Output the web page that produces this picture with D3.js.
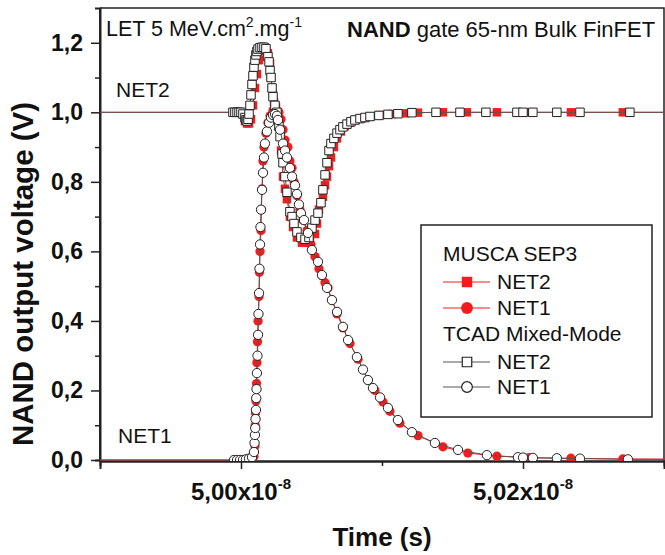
<!DOCTYPE html>
<html>
<head>
<meta charset="utf-8">
<script src="https://cdn.jsdelivr.net/npm/d3@7/dist/d3.min.js"></script>
<style>
body { margin: 0; background: #fff; }
text { font-family: "Liberation Sans", Arial, sans-serif; fill: #111; }
</style>
</head>
<body>
<script>
// time in ns, voltage in V
var tcadNet2T = [49.8, 49.9943, 49.9957, 49.9972, 49.9986, 50.0000, 50.0014, 50.0028, 50.0035, 50.0043, 50.0050, 50.0057, 50.0064, 50.0071, 50.0078, 50.0085, 50.0092, 50.0099, 50.0106, 50.0113, 50.0121, 50.0135, 50.0149, 50.0163, 50.0177, 50.0191, 50.0199, 50.0206, 50.0213, 50.0220, 50.0227, 50.0241, 50.0255, 50.0269, 50.0277, 50.0291, 50.0298, 50.0312, 50.0326, 50.0347, 50.0362, 50.0376, 50.0397, 50.0425, 50.0454, 50.0482, 50.0503, 50.0525, 50.0546, 50.0567, 50.0581, 50.0596, 50.0610, 50.0624, 50.0638, 50.0659, 50.0681, 50.0702, 50.0723, 50.0752, 50.0780, 50.0808, 50.0844, 50.0879, 50.0915, 50.0978, 50.1042, 50.1113, 50.1212, 50.1383, 50.1553, 50.1737, 50.1957, 50.2000, 50.2070, 50.2240, 50.2404, 50.2758, 50.4];
var tcadNet2V = [1.0, 1.0, 1.0, 1.0, 1.0, 1.0, 0.995, 0.985, 0.978, 0.975, 0.98, 0.995, 1.02, 1.05, 1.08, 1.105, 1.13, 1.15, 1.165, 1.175, 1.182, 1.186, 1.187, 1.187, 1.183, 1.16, 1.145, 1.12, 1.10, 1.07, 1.045, 1.02, 1.0, 0.96, 0.93, 0.88, 0.855, 0.815, 0.77, 0.714, 0.70, 0.68, 0.656, 0.64, 0.635, 0.64, 0.667, 0.69, 0.71, 0.74, 0.777, 0.82, 0.855, 0.89, 0.91, 0.925, 0.94, 0.95, 0.958, 0.966, 0.973, 0.978, 0.982, 0.985, 0.988, 0.991, 0.994, 0.996, 0.999, 1.0, 1.0, 1.0, 1.0, 1.0, 1.0, 1.0, 1.0, 1.0, 1.0];

var tcadNet1T = [49.8, 49.9950, 49.9972, 49.9993, 50.0014, 50.0035, 50.0057, 50.0078, 50.0092, 50.0096, 50.0099, 50.0101, 50.0103, 50.0106, 50.0108, 50.0110, 50.0113, 50.0117, 50.0121, 50.0124, 50.0128, 50.0131, 50.0135, 50.0138, 50.0142, 50.0149, 50.0156, 50.0163, 50.0170, 50.0184, 50.0199, 50.0213, 50.0227, 50.0241, 50.0255, 50.0262, 50.0277, 50.0298, 50.0312, 50.0326, 50.0347, 50.0362, 50.0383, 50.0397, 50.0411, 50.0425, 50.0447, 50.0475, 50.0503, 50.0546, 50.0574, 50.0610, 50.0645, 50.0681, 50.0723, 50.0759, 50.0822, 50.0865, 50.0900, 50.0936, 50.0986, 50.1042, 50.1113, 50.1212, 50.1375, 50.1539, 50.1744, 50.1964, 50.2000, 50.2070, 50.2240, 50.2404, 50.2744, 50.4];
var tcadNet1V = [0, 0, 0, 0, 0, 0.002, 0.004, 0.008, 0.023, 0.049, 0.072, 0.092, 0.118, 0.144, 0.178, 0.204, 0.25, 0.30, 0.36, 0.42, 0.48, 0.55, 0.62, 0.67, 0.72, 0.777, 0.826, 0.87, 0.91, 0.945, 0.97, 0.985, 0.992, 0.995, 0.99, 0.978, 0.95, 0.91, 0.89, 0.87, 0.84, 0.815, 0.79, 0.765, 0.735, 0.71, 0.69, 0.653, 0.604, 0.57, 0.532, 0.495, 0.46, 0.426, 0.383, 0.345, 0.296, 0.26, 0.23, 0.207, 0.18, 0.15, 0.115, 0.08, 0.049, 0.029, 0.014, 0.008, 0.007, 0.006, 0.005, 0.004, 0.002, 0.001];

var muscaNet2T = [49.8, 49.9965, 49.9993, 50.0014, 50.0028, 50.0043, 50.0057, 50.0071, 50.0085, 50.0099, 50.0113, 50.0128, 50.0142, 50.0156, 50.0177, 50.0191, 50.0206, 50.0213, 50.0220, 50.0227, 50.0234, 50.0248, 50.0262, 50.0269, 50.0284, 50.0298, 50.0312, 50.0326, 50.0347, 50.0369, 50.0397, 50.0432, 50.0461, 50.0489, 50.0525, 50.0539, 50.0553, 50.0567, 50.0581, 50.0596, 50.0610, 50.0624, 50.0638, 50.0659, 50.0681, 50.0709, 50.0737, 50.0773, 50.0815, 50.0858, 50.0915, 50.0986, 50.1071, 50.1163, 50.1255, 50.1432, 50.1602, 50.1815, 50.2042, 50.2340, 50.2708, 50.4];
var muscaNet2V = [1.0, 1.0, 1.0, 0.995, 0.975, 0.968, 0.968, 0.98, 1.02, 1.07, 1.11, 1.15, 1.175, 1.185, 1.183, 1.17, 1.14, 1.10, 1.07, 1.05, 1.03, 1.015, 1.0, 0.96, 0.89, 0.815, 0.78, 0.75, 0.70, 0.67, 0.64, 0.625, 0.625, 0.635, 0.65, 0.68, 0.72, 0.74, 0.757, 0.79, 0.815, 0.845, 0.87, 0.90, 0.925, 0.945, 0.96, 0.97, 0.978, 0.983, 0.988, 0.992, 0.995, 0.997, 0.999, 1.0, 1.0, 1.0, 1.0, 1.0, 1.0, 1.0];

var muscaNet1T = [49.8, 50.0035, 50.0057, 50.0078, 50.0092, 50.0099, 50.0101, 50.0103, 50.0106, 50.0110, 50.0113, 50.0117, 50.0121, 50.0128, 50.0131, 50.0135, 50.0142, 50.0145, 50.0149, 50.0156, 50.0163, 50.0177, 50.0191, 50.0206, 50.0227, 50.0248, 50.0269, 50.0284, 50.0298, 50.0312, 50.0333, 50.0347, 50.0362, 50.0376, 50.0397, 50.0418, 50.0440, 50.0468, 50.0496, 50.0525, 50.0553, 50.0574, 50.0596, 50.0617, 50.0645, 50.0681, 50.0723, 50.0773, 50.0830, 50.0900, 50.0950, 50.1007, 50.1056, 50.1127, 50.1255, 50.1432, 50.1609, 50.1815, 50.2042, 50.2340, 50.2708, 50.4];
var muscaNet1V = [0, 0, 0, 0.005, 0.01, 0.04, 0.1, 0.135, 0.17, 0.22, 0.28, 0.34, 0.40, 0.47, 0.54, 0.60, 0.66, 0.72, 0.78, 0.86, 0.90, 0.94, 0.97, 0.99, 1.005, 1.01, 1.0, 0.98, 0.95, 0.92, 0.90, 0.86, 0.84, 0.80, 0.76, 0.72, 0.69, 0.66, 0.62, 0.585, 0.55, 0.53, 0.51, 0.495, 0.46, 0.42, 0.38, 0.335, 0.29, 0.23, 0.20, 0.167, 0.14, 0.106, 0.07, 0.038, 0.02, 0.011, 0.007, 0.005, 0.003, 0.001];

var xMajorTicks = [50.0, 50.2];
var xMajorLabels = ["5,00x10", "5,02x10"];
var xMinorTicks = [50.1];
var yMajorTicks = [0, 0.2, 0.4, 0.6, 0.8, 1.0, 1.2];
var yMinorTicks = [0.1, 0.3, 0.5, 0.7, 0.9, 1.1];

var legendGroups = ["MUSCA SEP3", "TCAD Mixed-Mode"];
var legendNames = ["NET2", "NET1"];

var red = "#f41c1c";
var grey = "#555";

var svg = d3.select("body")
	.append("svg")
	.attr("width", 665)
	.attr("height", 555);

var pLeft = 100, pRight = 664, pTop = 8, pBottom = 461;

var xScale = d3.scaleLinear()
	.domain([49.9, 50.3])
	.range([pLeft, pRight]);

var yScale = d3.scaleLinear()
	.domain([0, 1.3])
	.range([460, 8]);

svg.append("defs").append("clipPath").attr("id", "plotClip")
	.append("rect")
	.attr("x", pLeft).attr("y", pTop)
	.attr("width", pRight - pLeft).attr("height", pBottom - pTop);

// frame top/right
svg.append("path")
	.attr("d", "M" + pLeft + "," + pTop + "H" + pRight + "V" + pBottom)
	.attr("fill", "none")
	.attr("stroke", "#222")
	.attr("stroke-width", 1.5);

// x axis
var xAxis = svg.append("g").attr("transform", "translate(0," + pBottom + ")");
xAxis.call(d3.axisBottom(xScale).tickValues(xMajorTicks).tickSize(8).tickFormat(""));
xAxis.append("g").call(d3.axisBottom(xScale).tickValues(xMinorTicks).tickSize(5).tickFormat(""));
xAxis.selectAll(".domain").attr("stroke", "#222").attr("stroke-width", 2);
xAxis.selectAll(".tick line").attr("stroke", "#222").attr("stroke-width", 1.5);

xAxis.selectAll(".xlab")
	.data(xMajorTicks)
	.enter().append("text")
	.attr("class", "xlab")
	.attr("x", function(d) { return xScale(d); })
	.attr("y", 39)
	.attr("text-anchor", "middle")
	.attr("font-size", 24)
	.attr("font-weight", "bold")
	.each(function(d, i) {
		var t = d3.select(this);
		t.append("tspan").text(xMajorLabels[i]);
		t.append("tspan").attr("dy", -11).attr("font-size", 15).text("-8");
	});

// y axis
var yAxis = svg.append("g").attr("transform", "translate(" + pLeft + ",0)");
yAxis.call(d3.axisLeft(yScale).tickValues(yMajorTicks).tickSize(9)
	.tickFormat(function(d) { return d3.format(".1f")(d).replace(".", ","); }));
yAxis.append("g").call(d3.axisLeft(yScale).tickValues(yMinorTicks).tickSize(5).tickFormat(""));
yAxis.select(".domain").attr("d", "M0," + pBottom + "V" + pTop);
yAxis.selectAll(".domain").attr("stroke", "#222").attr("stroke-width", 2);
yAxis.selectAll(".tick line").attr("stroke", "#222").attr("stroke-width", 1.5);
yAxis.selectAll(".tick text")
	.attr("x", -17)
	.attr("font-size", 23)
	.attr("font-weight", "bold")
	.attr("fill", "#111")
	.style("font-family", "'Liberation Sans', Arial, sans-serif");

// axis titles
svg.append("text")
	.attr("x", 382)
	.attr("y", 546)
	.attr("text-anchor", "middle")
	.attr("font-size", 26)
	.attr("font-weight", "bold")
	.text("Time (s)");

svg.append("text")
	.attr("transform", "translate(33,274) rotate(-90)")
	.attr("text-anchor", "middle")
	.attr("font-size", 29.5)
	.attr("font-weight", "bold")
	.text("NAND output voltage (V)");

// data
var plot = svg.append("g").attr("clip-path", "url(#plotClip)");

function makeSeries(ts, vs) {
	return ts.map(function(t, i) { return {t: t, v: vs[i]}; });
}
var line = d3.line()
	.x(function(d) { return xScale(d.t); })
	.y(function(d) { return yScale(d.v); });

function drawSeries(data, color, shape, filled) {
	plot.append("path")
		.datum(data)
		.attr("d", line)
		.attr("fill", "none")
		.attr("stroke", color)
		.attr("stroke-width", 1);
	var sym = d3.symbol().type(shape == "square" ? d3.symbolSquare : d3.symbolCircle)
		.size(shape == "square" ? 72 : 68);
	plot.append("g")
		.selectAll("path")
		.data(data)
		.enter().append("path")
		.attr("d", sym)
		.attr("transform", function(d) { return "translate(" + xScale(d.t) + "," + yScale(d.v) + ")"; })
		.attr("fill", filled ? color : "#fff")
		.attr("stroke", filled ? "none" : "#222")
		.attr("stroke-width", 1);
}

drawSeries(makeSeries(muscaNet2T, muscaNet2V), red, "square", true);
drawSeries(makeSeries(muscaNet1T, muscaNet1V), red, "circle", true);
drawSeries(makeSeries(tcadNet2T, tcadNet2V), grey, "square", false);
drawSeries(makeSeries(tcadNet1T, tcadNet1V), grey, "circle", false);

// annotations
var let5 = svg.append("text").attr("x", 106).attr("y", 36).attr("font-size", 21.5);
let5.append("tspan").text("LET 5 MeV.cm");
let5.append("tspan").attr("dy", -9).attr("font-size", 14).text("2");
let5.append("tspan").attr("dy", 9).text(".mg");
let5.append("tspan").attr("dy", -9).attr("font-size", 14).text("-1");

var gateTxt = svg.append("text").attr("x", 347).attr("y", 37).attr("font-size", 22);
gateTxt.append("tspan").attr("font-weight", "bold").text("NAND");
gateTxt.append("tspan").text(" gate 65-nm Bulk FinFET");

svg.append("text").attr("x", 116).attr("y", 97).attr("font-size", 21).text("NET2");
svg.append("text").attr("x", 118).attr("y", 443).attr("font-size", 21).text("NET1");

// legend
var legend = svg.append("g");
legend.append("rect")
	.attr("x", 421).attr("y", 225)
	.attr("width", 231).attr("height", 192)
	.attr("fill", "#fff")
	.attr("stroke", "#222")
	.attr("stroke-width", 1.5);

var rowY = [[261, 282, 308], [341, 362, 387]];
legendGroups.forEach(function(g, gi) {
	legend.append("text")
		.attr("x", 443).attr("y", rowY[gi][0])
		.attr("font-size", 21)
		.text(g);
	legendNames.forEach(function(n, ni) {
		var cy = rowY[gi][ni + 1];
		var col = gi == 0 ? red : grey;
		legend.append("line")
			.attr("x1", 443).attr("x2", 490)
			.attr("y1", cy).attr("y2", cy)
			.attr("stroke", col).attr("stroke-width", 1);
		var sym = d3.symbol().type(ni == 0 ? d3.symbolSquare : d3.symbolCircle)
			.size(gi == 0 ? 110 : 90);
		legend.append("path")
			.attr("d", sym)
			.attr("transform", "translate(467," + cy + ")")
			.attr("fill", gi == 0 ? red : "#fff")
			.attr("stroke", gi == 0 ? "none" : "#222")
			.attr("stroke-width", 1.2);
		legend.append("text")
			.attr("x", 497).attr("y", cy + 7)
			.attr("font-size", 21)
			.text(n);
	});
});
</script>
</body>
</html>
